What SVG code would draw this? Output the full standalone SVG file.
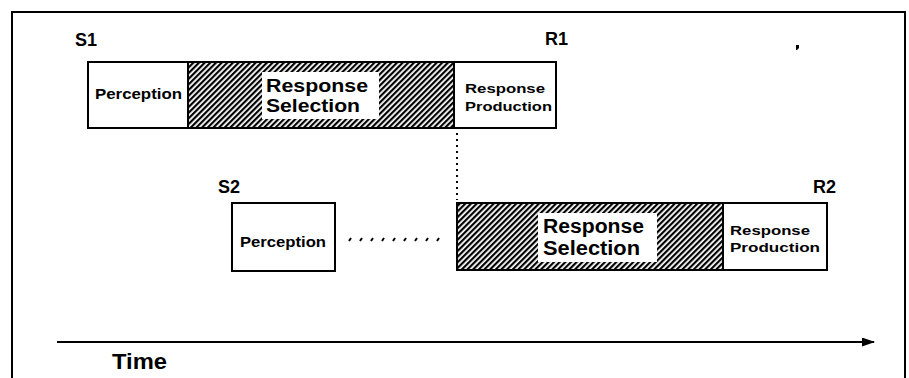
<svg xmlns="http://www.w3.org/2000/svg" width="909" height="378" viewBox="0 0 909 378">
<style>
text{font-family:"Liberation Sans",Arial,sans-serif;font-weight:bold;fill:#000}
.box{fill:#fff;stroke:#000;stroke-width:2}
.hatch{fill:url(#hatch);stroke:#000;stroke-width:2}
.lbl{fill:#fff;stroke:none}
.big{font-size:20px}
.big1{font-size:18px}
.small{font-size:13.5px}
.tag{font-size:18px}
</style>
<defs>
<pattern id="hatch" width="4" height="4" patternUnits="userSpaceOnUse" patternTransform="rotate(45)">
<rect width="4" height="4" fill="#fff"/>
<rect width="2.2" height="4" fill="#000"/>
</pattern>
<marker id="arrow" markerWidth="13" markerHeight="9" refX="12" refY="4.5" orient="auto" markerUnits="userSpaceOnUse">
<path d="M0,0 L13,4.5 L0,9 Z" fill="#000"/>
</marker>
</defs>
<rect width="909" height="378" fill="#fff"/>
<path d="M12,378 V12 H905 V378" fill="none" stroke="#000" stroke-width="2"/>
<path d="M796,45 h3 v3 l-2,2 h-1 z" fill="#000"/>

<g id="labels">
<text class="tag" x="75" y="46">S1</text>
<text class="tag" x="545" y="45">R1</text>
<text class="tag" x="218" y="193">S2</text>
<text class="tag" x="813" y="193">R2</text>
</g>

<g id="connectors">
<line x1="457" y1="133" x2="457" y2="200" stroke="#000" stroke-width="2" stroke-dasharray="2,4"/>
<path d="M349,241 l2,-3 M360,241 l2,-3 M371,241 l2,-3 M382,241 l2,-3 M393,241 l2,-3 M404,241 l2,-3 M415,241 l2,-3 M426,241 l2,-3 M437,241 l2,-3" stroke="#000" stroke-width="2" fill="none"/>
<line x1="57" y1="342" x2="874" y2="342" stroke="#000" stroke-width="2" marker-end="url(#arrow)"/>
</g>

<g id="perception1">
<rect class="box" x="88" y="62" width="100" height="66"/>
<text x="95" y="99" textLength="87" lengthAdjust="spacingAndGlyphs" style="font-size:14px">Perception</text>
</g>
<g id="selection1">
<rect class="hatch" x="188" y="62" width="266" height="66"/>
<rect class="lbl" x="262" y="72" width="117" height="47"/>
<text class="big1" x="266" y="92" textLength="102" lengthAdjust="spacingAndGlyphs">Response</text>
<text class="big1" x="266" y="112" textLength="94" lengthAdjust="spacingAndGlyphs">Selection</text>
</g>
<g id="production1">
<rect class="box" x="454" y="62" width="102" height="66"/>
<text class="small" x="465" y="93" textLength="80" lengthAdjust="spacingAndGlyphs">Response</text>
<text class="small" x="465" y="111" textLength="87" lengthAdjust="spacingAndGlyphs">Production</text>
</g>

<g id="perception2">
<rect class="box" x="232" y="203" width="103" height="68"/>
<text x="240" y="247" textLength="86" lengthAdjust="spacingAndGlyphs" style="font-size:14px">Perception</text>
</g>
<g id="selection2">
<rect class="hatch" x="457" y="203" width="266" height="67"/>
<rect class="lbl" x="538" y="213" width="119" height="49"/>
<text class="big" x="543" y="233" textLength="101" lengthAdjust="spacingAndGlyphs">Response</text>
<text class="big" x="543" y="255" textLength="97" lengthAdjust="spacingAndGlyphs">Selection</text>
</g>
<g id="production2">
<rect class="box" x="723" y="203" width="104" height="67"/>
<text class="small" x="730" y="235" textLength="80" lengthAdjust="spacingAndGlyphs">Response</text>
<text class="small" x="730" y="252" textLength="90" lengthAdjust="spacingAndGlyphs">Production</text>
</g>

<g id="time">
<text x="112" y="369" style="font-size:22px" textLength="55" lengthAdjust="spacingAndGlyphs">Time</text>
</g>
</svg>
